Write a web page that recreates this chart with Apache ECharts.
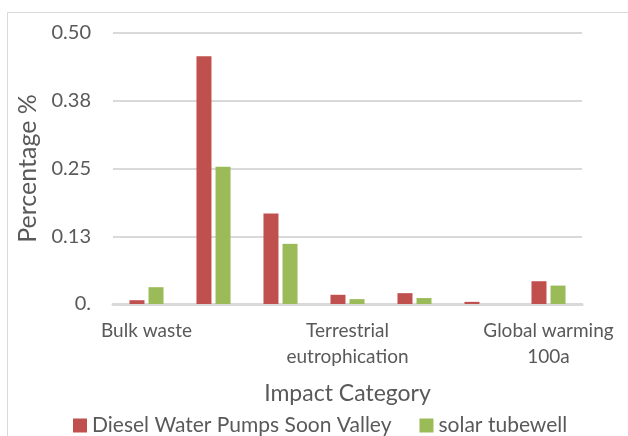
<!DOCTYPE html>
<html><head><meta charset="utf-8">
<script src="https://cdn.jsdelivr.net/npm/echarts@6/dist/echarts.min.js"></script>
<style>html,body{margin:0;padding:0;background:#fff}#c{width:628px;height:436px}</style>
</head><body><div id="c"></div>
<script>
// Seven impact categories; only every third one is labelled in the reference.
const categories = ['Bulk waste', 'Category 2', 'Category 3', 'Terrestrial\neutrophication', 'Category 5', 'Category 6', 'Global warming\n100a'];
const dieselValues = [0.007, 0.457, 0.167, 0.017, 0.020, 0.004, 0.042];
const solarValues  = [0.031, 0.253, 0.111, 0.009, 0.011, 0, 0.034];
const seriesNames = ['Diesel Water Pumps Soon Valley', 'solar tubewell'];
const yTickValues = [0, 0.125, 0.25, 0.375, 0.5];
const yTickLabels = ['0.', '0.13', '0.25', '0.38', '0.50'];

const FONT = 'Lato';
const TXT = '#595959';
const chart = echarts.init(document.getElementById('c'), null, {renderer: 'canvas'});
chart.setOption({
  animation: false,
  textStyle: {fontFamily: FONT},
  graphic: [{type: 'rect', shape: {x: 7.5, y: 12.5, width: 700, height: 500}, style: {fill: 'none', stroke: '#d9d9d9', lineWidth: 1}, silent: true, z: -1}],
  grid: {left: 113, right: 46, top: 33, bottom: 132, containLabel: false},
  legend: {
    top: 410, left: 68, itemWidth: 14, itemHeight: 14, itemGap: 28,
    icon: 'rect',
    textStyle: {fontFamily: FONT, fontSize: 21, color: TXT},
    data: seriesNames
  },
  xAxis: {
    type: 'category', data: categories,
    name: 'Impact Category', nameLocation: 'middle', nameGap: 78,
    nameTextStyle: {fontFamily: FONT, fontSize: 23, color: TXT},
    axisLine: {lineStyle: {color: '#d9d9d9', width: 3}},
    axisTick: {show: false},
    axisLabel: {interval: 2, color: TXT, fontFamily: FONT, fontSize: 19, margin: 14, lineHeight: 26}
  },
  yAxis: {
    type: 'value', min: 0, max: 0.5, interval: 0.125,
    name: 'Percentage %', nameLocation: 'middle', nameGap: 72,
    nameTextStyle: {fontFamily: FONT, fontSize: 25, color: TXT},
    axisLine: {show: false}, axisTick: {show: false},
    axisLabel: {
      color: TXT, fontFamily: FONT, fontSize: 20, margin: 22,
      formatter: v => { const i = yTickValues.findIndex(t => Math.abs(t - v) < 1e-9); return i >= 0 ? yTickLabels[i] : ''; }
    },
    splitLine: {lineStyle: {color: '#d9d9d9', width: 2}}
  },
  series: [
    {name: seriesNames[0], type: 'bar', data: dieselValues, itemStyle: {color: '#c0504d'}, barWidth: 15, barGap: '27%'},
    {name: seriesNames[1], type: 'bar', data: solarValues, itemStyle: {color: '#9bbb59'}, barWidth: 15, barGap: '27%'}
  ]
});
</script></body></html>
